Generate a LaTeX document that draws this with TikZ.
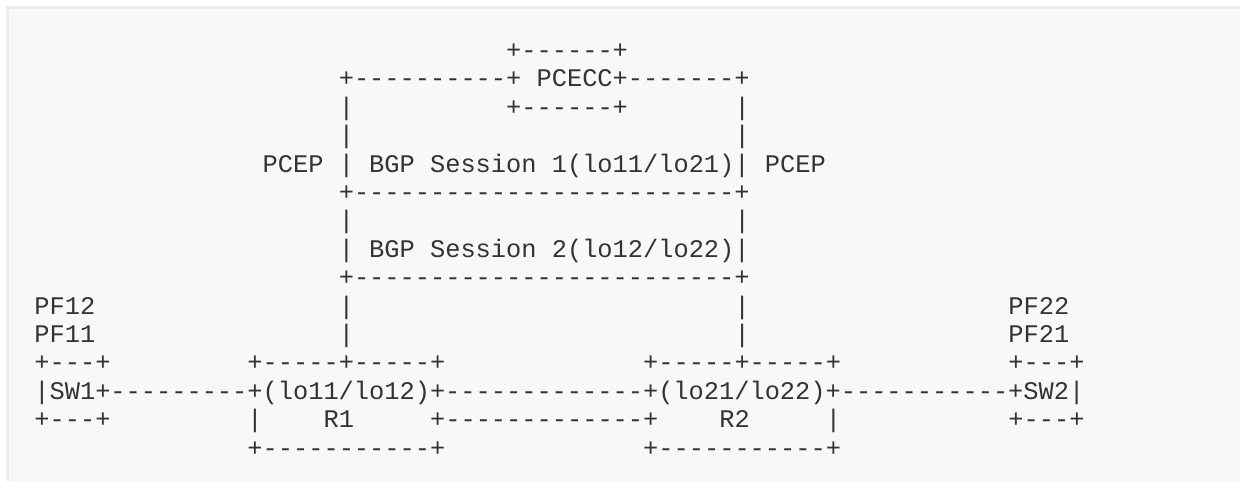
\documentclass[tikz,border=0pt]{standalone}
\usepackage{fontspec}
\setmonofont{Liberation Mono}
\definecolor{txtcol}{RGB}{51,51,51}
\definecolor{panelfill}{RGB}{248,248,248}
\definecolor{panelline}{RGB}{236,236,236}
\newcommand\ascseg[4]{\node[txt] (#1) at ({34.4+15.22*#2},{58.6+28.39*#3}) {#4};}
\begin{document}
\begin{tikzpicture}[x=1pt,y=-1pt,
  txt/.style={anchor=base west,inner sep=0pt,outer sep=0pt,text=txtcol,
    font=\ttfamily\fontsize{25.36pt}{28.4pt}\selectfont}]
\useasboundingbox (0,0) rectangle (1240,481);
\clip (0,0) rectangle (1240,481);
\fill[white] (0,0) rectangle (1240,481);
\draw[panelline,line width=2.5pt,fill=panelfill] (7.5,7.5) rectangle (1260,500);
% row 0-2: PCECC box
\ascseg{pcecctop}{31}{0}{+------+}
\ascseg{pcecc}{20}{1}{+----------+~PCECC+-------+}
\ascseg{lA2}{20}{2}{|}
\ascseg{pceccbot}{31}{2}{+------+}
\ascseg{rA2}{46}{2}{|}
\ascseg{lA3}{20}{3}{|}
\ascseg{rA3}{46}{3}{|}
% row 4: session 1
\ascseg{pcepl}{15}{4}{PCEP}
\ascseg{bgp1}{20}{4}{|~BGP~Session~1(lo11/lo21)|}
\ascseg{pcepr}{48}{4}{PCEP}
\ascseg{sep1}{20}{5}{+-------------------------+}
\ascseg{lA6}{20}{6}{|}
\ascseg{rA6}{46}{6}{|}
\ascseg{bgp2}{20}{7}{|~BGP~Session~2(lo12/lo22)|}
\ascseg{sep2}{20}{8}{+-------------------------+}
% rows 9-10
\ascseg{pf12}{0}{9}{PF12}
\ascseg{lA9}{20}{9}{|}
\ascseg{rA9}{46}{9}{|}
\ascseg{pf22}{64}{9}{PF22}
\ascseg{pf11}{0}{10}{PF11}
\ascseg{lA10}{20}{10}{|}
\ascseg{rA10}{46}{10}{|}
\ascseg{pf21}{64}{10}{PF21}
% row 11
\ascseg{swatop}{0}{11}{+---+}
\ascseg{ratop}{14}{11}{+-----+-----+}
\ascseg{rbtop}{40}{11}{+-----+-----+}
\ascseg{swbtop}{64}{11}{+---+}
% row 12
\ascseg{mainline}{0}{12}{|SW1+---------+(lo11/lo12)+-------------+(lo21/lo22)+-----------+SW2|}
% row 13
\ascseg{swabot}{0}{13}{+---+}
\ascseg{raleft}{14}{13}{|}
\ascseg{rone}{19}{13}{R1}
\ascseg{link2}{26}{13}{+-------------+}
\ascseg{rtwo}{45}{13}{R2}
\ascseg{rbright}{52}{13}{|}
\ascseg{swbbot}{64}{13}{+---+}
% row 14
\ascseg{rabot}{14}{14}{+-----------+}
\ascseg{rbbot}{40}{14}{+-----------+}
\end{tikzpicture}
\end{document}
